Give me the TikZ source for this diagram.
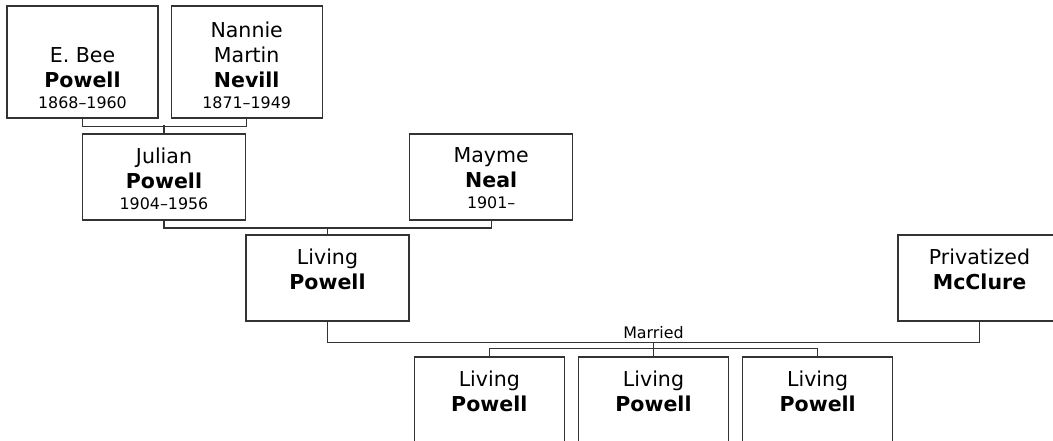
\documentclass[tikz,border=0pt]{standalone}
\usepackage{fontspec}
\setmainfont{DejaVu Sans}
\usepackage{xcolor}
\usepackage{tikz}
\usetikzlibrary{positioning}
\definecolor{treegray}{RGB}{51, 51, 51}
\newcommand\namefont{\fontsize{15.4}{18.75}\selectfont}
\newcommand\datefont{\fontsize{11.9}{14}\selectfont}
\tikzset{
  person/.style={
    draw=treegray, line width=0.9pt, fill=white,
    minimum width=122.25pt, minimum height=64.5pt,
    inner sep=0pt,
  },
  person gp/.style={person, minimum width=113.25pt, minimum height=84pt},
  person kid/.style={person, minimum width=112.5pt},
  who text/.style={align=center, inner sep=0pt, font=\namefont},
  who/.style={label={[who text, anchor=north, yshift=-10.5pt]north:#1}},
  who low/.style={label={[who text, anchor=south, yshift=7.5pt]south:#1}},
  rel/.style={draw=treegray, line width=0.9pt},
  wed/.style={font=\datefont, inner sep=2.5pt},
}

\begin{document}
\begin{tikzpicture}[x=0.75pt, y=-0.75pt]

\useasboundingbox (0,0) rectangle (1053,441);
\clip (0,0) rectangle (1053,441);

\node[person gp, who low={E. Bee\\\textbf{Powell}\\[-3pt]{\datefont 1868–1960}}] (ebee) at (82.5,62) {};
\node[person gp, right=9pt of ebee, who low={Nannie\\Martin\\\textbf{Nevill}\\[-3pt]{\datefont 1871–1949}}] (nannie) {};
\node[person, who={Julian\\\textbf{Powell}\\[-3pt]{\datefont 1904–1956}}] (julian) at (164,177) {};
\node[person, right=122.25pt of julian, who={Mayme\\\textbf{Neal}\\[-3pt]{\datefont 1901–}}] (mayme) {};
\node[person, who={Living\\\textbf{Powell}}] (living) at (327.5,278) {};
\node[person, who={Privatized\\\textbf{McClure}}] (mcclure) at (979.5,278) {};
\node[person kid, who={Living\\\textbf{Powell}}] (kid2) at (653.5,400) {};
\node[person kid, left=9.75pt of kid2, who={Living\\\textbf{Powell}}] (kid1) {};
\node[person kid, right=9.75pt of kid2, who={Living\\\textbf{Powell}}] (kid3) {};

\draw[rel] (ebee.south) -- ++(0,8) -| (nannie.south);
\draw[rel] (julian.north) -- ++(0,-8);
\draw[rel] (julian.south) -- ++(0,7.5) -| (mayme.south);
\draw[rel] (living.north) -- ++(0,-7.5);
\draw[rel] (living.south) -- ++(0,21) -| (mcclure.south)
  node[wed, pos=0.25, above] {Married} coordinate[pos=0.25] (wedding);
\draw[rel] (wedding) -- (kid2.north);
\draw[rel] (kid1.north) -- ++(0,-8) -| (kid3.north);

\end{tikzpicture}
\end{document}
